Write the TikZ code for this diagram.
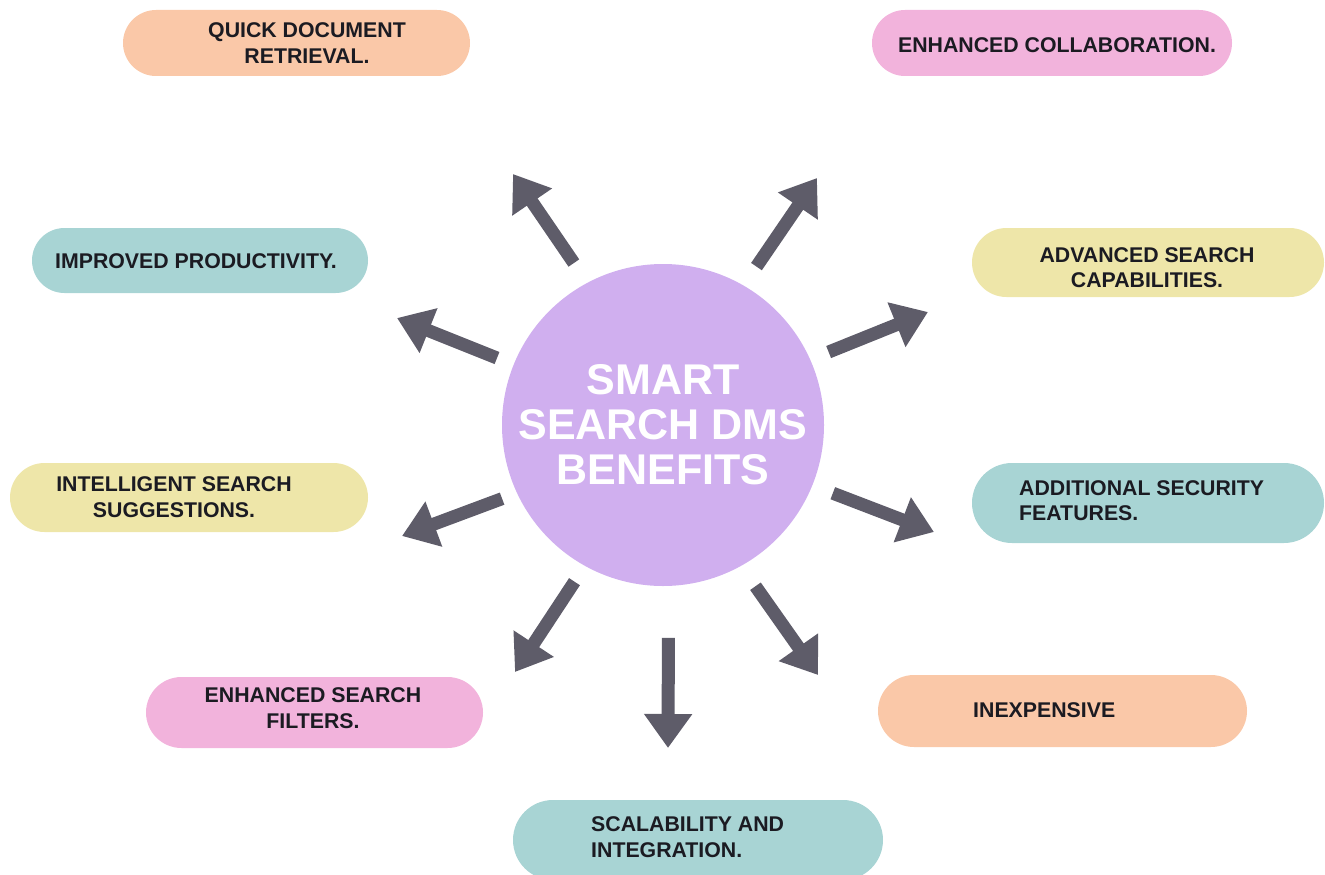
\documentclass[tikz,border=0pt]{standalone}
\usepackage{fontspec}
\setmainfont{Liberation Sans}
\usetikzlibrary{arrows.meta,shapes.misc}

\definecolor{cfac8a8}{RGB}{250,200,168}
\definecolor{cf2b3dc}{RGB}{242,179,220}
\definecolor{ca8d4d4}{RGB}{168,212,212}
\definecolor{ceee6a9}{RGB}{238,230,169}
\definecolor{cd0afef}{RGB}{208,175,239}
\definecolor{c5e5c69}{RGB}{94,92,105}
\definecolor{c1b1b22}{RGB}{27,27,34}

\tikzset{
  pill/.style={rounded rectangle, inner sep=0pt, outer sep=0pt},
  lbl/.style={text=c1b1b22, inner sep=0pt,
    font=\bfseries\fontsize{21.3}{25.5}\selectfont},
  spoke/.style={draw=c5e5c69, line width=13pt,
    -{Triangle[width=46pt,length=34pt]}},
}

\begin{document}
\begin{tikzpicture}[x=1pt, y=1pt, yscale=-1]

  \useasboundingbox (0,0) rectangle (1325,875);

  % centre
  \node[circle, fill=cd0afef, minimum size=322pt, inner sep=0pt, outer sep=0pt,
    text=white, align=center, font=\bfseries\fontsize{43}{45}\selectfont]
    (hub) at (663,425) {SMART\\SEARCH DMS\\BENEFITS};

  % pills
  \node[pill, fill=cfac8a8, minimum width=347pt, minimum height=66pt] (qdr) at (296.5,43) {};
  \node[pill, fill=cf2b3dc, minimum width=360pt, minimum height=66pt] (collab) at (1052,43) {};
  \node[pill, fill=ca8d4d4, minimum width=336pt, minimum height=65pt] (improved) at (200,260.5) {};
  \node[pill, fill=ceee6a9, minimum width=352pt, minimum height=69pt] (adv) at (1148,262.5) {};
  \node[pill, fill=ceee6a9, minimum width=358pt, minimum height=69pt] (intsugg) at (189,497.5) {};
  \node[pill, fill=ca8d4d4, minimum width=352pt, minimum height=80pt] (addsec) at (1148,503) {};
  \node[pill, fill=cf2b3dc, minimum width=337pt, minimum height=71pt] (filters) at (314.5,712.5) {};
  \node[pill, fill=cfac8a8, minimum width=369pt, minimum height=72pt] (inexp) at (1062.5,711) {};
  \node[pill, fill=ca8d4d4, minimum width=370pt, minimum height=80pt] (scal) at (698,840) {};

  % pill texts
  \node[lbl, align=center] (qdrtext) at (307,43) {QUICK DOCUMENT\\RETRIEVAL.};
  \node[lbl] (collabtext) at (1057,45) {ENHANCED COLLABORATION.};
  \node[lbl] (improvedtext) at (196,261) {IMPROVED PRODUCTIVITY.};
  \node[lbl, align=center] (advtext) at (1147,267.5) {ADVANCED SEARCH\\CAPABILITIES.};
  \node[lbl, align=center] (intsuggtext) at (174,497) {INTELLIGENT SEARCH\\SUGGESTIONS.};
  \node[lbl, align=left, anchor=west] (addsectext) at (1019,500.5) {ADDITIONAL SECURITY\\FEATURES.};
  \node[lbl, align=center] (filterstext) at (313,708) {ENHANCED SEARCH\\FILTERS.};
  \node[lbl, anchor=west] (inexptext) at (973,710) {INEXPENSIVE};
  \node[lbl, align=left, anchor=west] (scaltext) at (591,837) {SCALABILITY AND\\INTEGRATION.};

  % arrow tips
  \coordinate (tipqdr) at (513,174);
  \coordinate (tipcollab) at (817,178);
  \coordinate (tipimproved) at (397,318);
  \coordinate (tipadv) at (928,312);
  \coordinate (tipintsugg) at (402,536);
  \coordinate (tipaddsec) at (934,532);
  \coordinate (tipfilters) at (515,672);
  \coordinate (tipscal) at (668,748);
  \coordinate (tipinexp) at (818,675);

  % arrows
  \draw[spoke, shorten <=24pt] (hub.118) -- (tipqdr);
  \draw[spoke, shorten <=23pt] (hub.60) -- (tipcollab);
  \draw[spoke, shorten <=18pt] (hub.158) -- (tipimproved);
  \draw[spoke, shorten <=20pt] (hub.24) -- (tipadv);
  \draw[spoke, shorten <=16pt] (hub.205) -- (tipintsugg);
  \draw[spoke, shorten <=22pt] (hub.-22) -- (tipaddsec);
  \draw[spoke, shorten <=19pt] (hub.-119) -- (tipfilters);
  \draw[spoke, shorten <=52pt] (hub.-88) -- (tipscal);
  \draw[spoke, shorten <=25pt] (hub.-61) -- (tipinexp);

\end{tikzpicture}
\end{document}
